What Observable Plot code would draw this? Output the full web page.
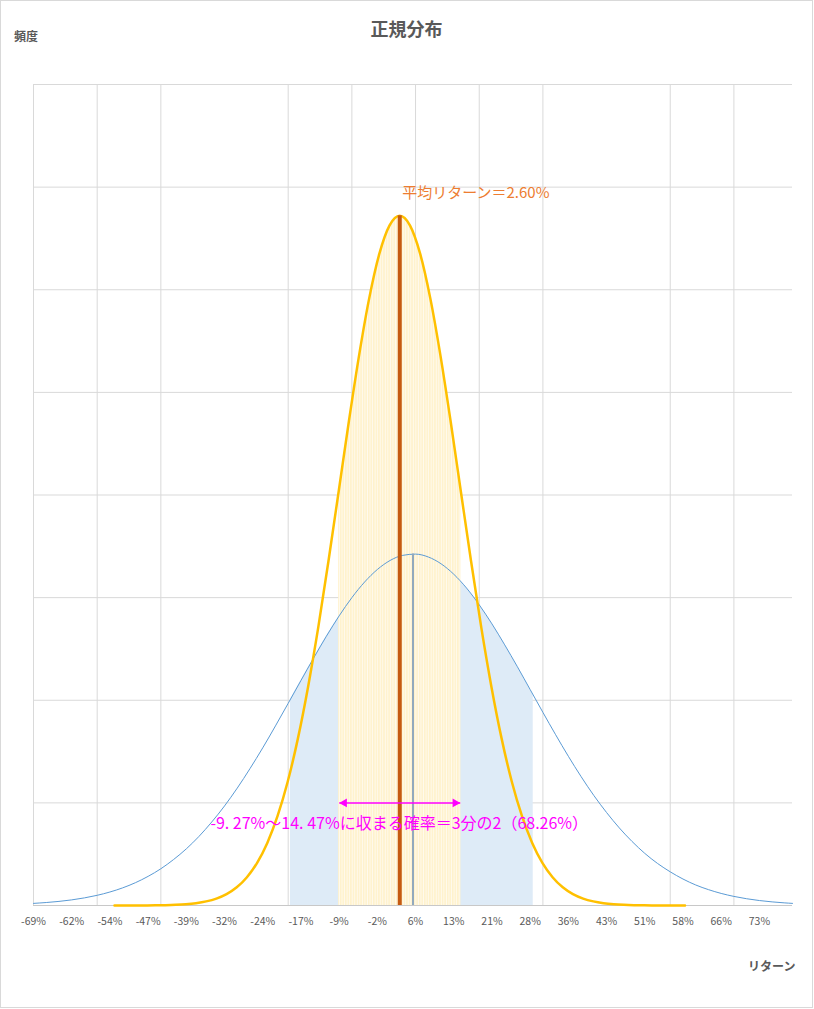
<!DOCTYPE html>
<html>
<head>
<meta charset="utf-8">
<script src="https://cdn.jsdelivr.net/npm/d3@7"></script>
<script src="https://cdn.jsdelivr.net/npm/@observablehq/plot@0.6"></script>
<style>
  body { margin: 0; background: #fff; font-family: "Noto Sans CJK JP", "Noto Sans", sans-serif; }
  #chart { position: relative; width: 814px; height: 1009px; overflow: hidden; }
  #chart svg { position: absolute; left: 0; top: 0; }
  #frame { position: absolute; left: 0; top: 0; width: 813px; height: 1008px; box-sizing: border-box; border: 1px solid #d9d9d9; pointer-events: none; }
  .lbl { position: absolute; color: #595959; font-weight: bold; white-space: nowrap; line-height: 1.2; }
  #title { left: 0; width: 813px; text-align: center; top: 18px; font-size: 18px; }
  #ylab { left: 14px; top: 29px; font-size: 12px; }
  #xlab { left: 748px; top: 959px; font-size: 12px; }
</style>
</head>
<body>
<div id="chart">
  <div id="title" class="lbl">正規分布</div>
  <div id="ylab" class="lbl">頻度</div>
  <div id="xlab" class="lbl">リターン</div>
  <div id="frame"></div>
</div>
<script>
// ---- x axis (return, %) ----
const xDomain = [-69.3, 79.7];
const tickValues = [-69.3, -61.8, -54.3, -46.8, -39.3, -31.8, -24.3, -16.8, -9.3, -1.8, 5.7, 13.2, 20.7, 28.2, 35.7, 43.2, 50.7, 58.2, 65.7, 73.2];
const tickLabels = ["-69%", "-62%", "-54%", "-47%", "-39%", "-32%", "-24%", "-17%", "-9%", "-2%", "6%", "13%", "21%", "28%", "36%", "43%", "51%", "58%", "66%", "73%"];
const gridX = [-69.3, -56.8, -44.3, -19.3, -6.8, 5.7, 18.2, 30.7, 55.7, 68.2];
const gridY = [0.5, 1, 1.5, 2, 2.5, 3, 3.5, 4];
const categoryStep = 0.5;

// ---- orange series (mean 2.60%) ----
const orangeX = [-53.4, -51.4, -49.4, -47.4, -45.4, -43.4, -41.4, -39.4, -37.4, -35.4, -33.4, -31.4, -29.4, -27.4, -25.4, -23.4, -21.4, -19.4, -17.4, -15.4, -13.4, -11.4, -9.4, -7.4, -5.4, -3.4, -1.4, 0.6, 2.6,
  4.6, 6.6, 8.6, 10.6, 12.6, 14.6, 16.6, 18.6, 20.6, 22.6, 24.6, 26.6, 28.6, 30.6, 32.6, 34.6, 36.6, 38.6, 40.6, 42.6, 44.6, 46.6, 48.6, 50.6, 52.6, 54.6, 56.6, 58.6];
const orangeY = [0.0000, 0.0001, 0.0002, 0.0005, 0.0009, 0.0018, 0.0035, 0.0064, 0.0115, 0.0200, 0.0338, 0.0556, 0.0888, 0.138, 0.208, 0.305, 0.435, 0.603, 0.813, 1.065, 1.355, 1.677, 2.016, 2.357, 2.678, 2.958, 3.176, 3.314, 3.361,
  3.314, 3.176, 2.958, 2.678, 2.357, 2.016, 1.677, 1.355, 1.065, 0.813, 0.603, 0.435, 0.305, 0.208, 0.138, 0.0888, 0.0556, 0.0338, 0.0200, 0.0115, 0.0064, 0.0035, 0.0018, 0.0009, 0.0005, 0.0002, 0.0001, 0.0000];
const orangeMean = 2.6;
const orangeRange = [-9.27, 14.47];
const orangeShade = [-9.4, 14.6];

// ---- blue series ----
const blueX = [-69.3, -66.8, -64.3, -61.8, -59.3, -56.8, -54.3, -51.8, -49.3, -46.8, -44.3, -41.8, -39.3, -36.8, -34.3, -31.8, -29.3, -26.8, -24.3, -21.8, -19.3, -16.8, -14.3, -11.8, -9.3, -6.8, -4.3, -1.8, 0.7, 3.2,
  5.7, 8.2, 10.7, 13.2, 15.7, 18.2, 20.7, 23.2, 25.7, 28.2, 30.7, 33.2, 35.7, 38.2, 40.7, 43.2, 45.7, 48.2, 50.7, 53.2, 55.7, 58.2, 60.7, 63.2, 65.7, 68.2, 70.7, 73.2, 75.7, 78.2, 79.7];
const blueY = [0.0103, 0.0145, 0.0200, 0.0274, 0.0371, 0.0497, 0.0657, 0.0859, 0.111, 0.142, 0.179, 0.224, 0.276, 0.337, 0.407, 0.485, 0.572, 0.667, 0.768, 0.875, 0.985, 1.096, 1.206, 1.312, 1.411, 1.500, 1.576, 1.637, 1.681, 1.706,
  1.712, 1.698, 1.665, 1.614, 1.547, 1.465, 1.372, 1.270, 1.163, 1.052, 0.941, 0.832, 0.727, 0.628, 0.536, 0.453, 0.378, 0.312, 0.254, 0.205, 0.164, 0.129, 0.100, 0.0773, 0.0588, 0.0443, 0.0329, 0.0242, 0.0176, 0.0127, 0.0103];
const blueMean = 5.2;
const blueShadeEdges = [{x: -18.85, y: 1.005}, {x: 28.8, y: 1.025}];

// ---- labels ----
const meanLabel = "平均リターン＝2.60%";
const rangeLabel = "-9. 27%～14. 47%に収まる確率＝3分の2（68.26%）";

// ---- build tables ----
const orange = orangeX.map((x, i) => ({x, y: orangeY[i]}));
const blue = blueX.map((x, i) => ({x, y: blueY[i]}));
const blueShade = [blueShadeEdges[0], ...blue.filter(d => d.x > blueShadeEdges[0].x && d.x < blueShadeEdges[1].x), blueShadeEdges[1]];
const orangeShadeData = orange.filter(d => d.x >= orangeShade[0] - 0.01 && d.x <= orangeShade[1] + 0.01);
const orangePeak = d3.max(orangeY);
const bluePeak = d3.max(blueY);

const font = '"Noto Sans CJK JP", "Noto Sans", sans-serif';
const magenta = "#ff00ff";

const plot = Plot.plot({
  width: 814,
  height: 1009,
  marginLeft: 33,
  marginRight: 22,
  marginTop: 84,
  marginBottom: 104,
  style: {fontFamily: font, background: "transparent", overflow: "visible"},
  x: {domain: xDomain, axis: null},
  y: {domain: [0, 4], axis: null},
  marks: [
    Plot.ruleY(gridY, {stroke: "#d9d9d9", strokeWidth: 1}),
    Plot.ruleX(gridX, {stroke: "#d9d9d9", strokeWidth: 1}),
    Plot.areaY(blueShade, {x: "x", y: "y", fill: "#deebf7", curve: "monotone-x"}),
    Plot.areaY(orangeShadeData, {x: "x", y: "y", fill: "url(#stripes)", curve: "monotone-x"}),
    Plot.ruleY([0], {stroke: "#c8c8c8", strokeWidth: 1}),
    Plot.line(blue, {x: "x", y: "y", stroke: "#5b9bd5", strokeWidth: 1, curve: "monotone-x"}),
    Plot.line(orange, {x: "x", y: "y", stroke: "#ffc000", strokeWidth: 2.5, curve: "monotone-x"}),
    Plot.ruleX([{x: blueMean, y: bluePeak}], {x: "x", y1: 0, y2: "y", stroke: "#92a9bd", strokeWidth: 2}),
    Plot.ruleX([{x: orangeMean, y: orangePeak}], {x: "x", y1: 0, y2: "y", stroke: "#c55a11", strokeWidth: 4}),
    Plot.link([{x1: orangeRange[0], x2: orangeRange[1], y: 0.5}], {x1: "x1", x2: "x2", y1: "y", y2: "y", stroke: magenta, strokeWidth: 1.5}),
    Plot.dot([{x: orangeRange[0], y: 0.5}], {x: "x", y: "y", symbol: "triangle", rotate: -90, fill: magenta, stroke: "none", r: 3.3, dx: 5}),
    Plot.dot([{x: orangeRange[1], y: 0.5}], {x: "x", y: "y", symbol: "triangle", rotate: 90, fill: magenta, stroke: "none", r: 3.3, dx: -5}),
    Plot.axisX(tickValues, {tickSize: 0, tickPadding: 12, fontSize: 10.5, fill: "#595959", tickFormat: d => tickLabels[tickValues.indexOf(d)], label: null}),
    Plot.text([{x: orangeMean, y: orangePeak, t: meanLabel}], {x: "x", y: "y", text: "t", textAnchor: "start", dx: 2.5, dy: -22, fill: "#ed7d31", fontSize: 15, fontFamily: font}),
    Plot.text([{x: orangeMean, y: 0.5, t: rangeLabel}], {x: "x", y: "y", text: "t", textAnchor: "middle", dx: -0.5, dy: 21, fill: magenta, fontSize: 16, fontFamily: font})
  ]
});

// stripe pattern sized to one category of the x scale
const xs = plot.scale("x");
const w = xs.apply(categoryStep) - xs.apply(0);
const defs = d3.select(plot).insert("defs", ":first-child");
const pat = defs.append("pattern")
  .attr("id", "stripes")
  .attr("patternUnits", "userSpaceOnUse")
  .attr("x", xs.apply(xDomain[0]) - w / 2)
  .attr("y", 0)
  .attr("width", w)
  .attr("height", 20);
pat.append("rect").attr("width", w).attr("height", 20).attr("fill", "#fff2cc");
pat.append("rect").attr("x", w * 0.62).attr("width", w * 0.38).attr("height", 20).attr("fill", "#fffaee");

document.getElementById("chart").insertBefore(plot, document.getElementById("frame"));
</script>
</body>
</html>
